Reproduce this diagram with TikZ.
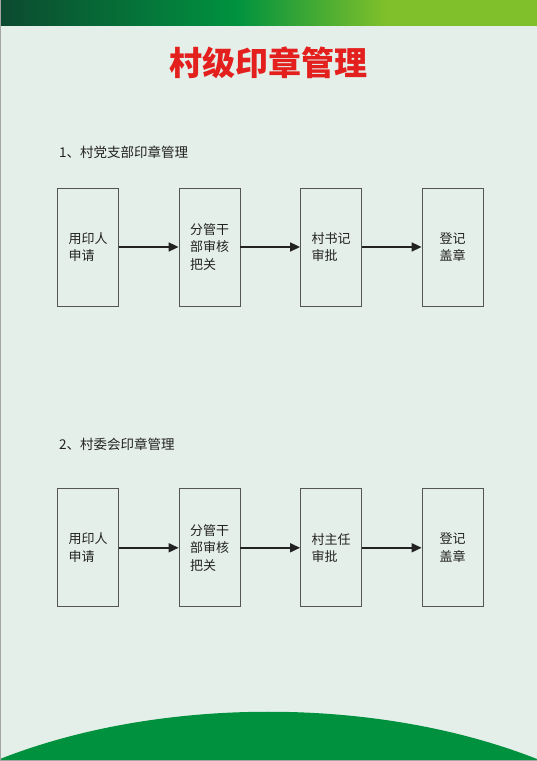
\documentclass[tikz,border=0pt]{standalone}
\usepackage{fontspec}
\setmainfont{Noto Sans CJK SC}
\usetikzlibrary{positioning,arrows.meta}

\definecolor{pagebg}{HTML}{E5EFE9}
\definecolor{bardark}{HTML}{0C4A30}
\definecolor{barmid}{HTML}{00923F}
\definecolor{barlight}{HTML}{80C02A}
\definecolor{arcgreen}{HTML}{00913E}
\definecolor{titlered}{HTML}{E3201E}
\definecolor{boxline}{HTML}{555555}
\definecolor{textdark}{HTML}{222222}

\pgfdeclarehorizontalshading{topbar}{100bp}{color(0bp)=(bardark); color(25bp)=(bardark);
  color(47bp)=(barmid); color(61bp)=(barlight); color(100bp)=(barlight)}

\begin{document}
\begin{tikzpicture}[
        x=1pt, y=1pt,
        node distance=59.7pt,
        stepbox/.style={
            rectangle,
            draw=boxline,
            line width=0.8pt,
            minimum width=61pt,
            minimum height=118pt,
            inner sep=0pt,
            align=left,
            text=textdark,
            font=\fontsize{13}{17.5}\selectfont
        },
        flow/.style={
            -{Triangle[length=10pt,width=9pt]},
            line width=1.6pt,
            draw=textdark
        },
        heading/.style={
            anchor=west,
            text=textdark,
            font=\fontsize{13.5}{15}\selectfont
        }
    ]

        \useasboundingbox (0,0) rectangle (537,761);

        % page background, top bar and bottom arc
        \fill[pagebg] (0,0) rectangle (537,761);
        \shade[shading=topbar] (0,735) rectangle (537,761);
        \fill[arcgreen] (0,0) -- (0,2) .. controls (160,65) and (377,65) .. (537,2) -- (537,0) -- cycle;
        \draw[gray!70, line width=1pt] (0,0) rectangle (537,761);

        \node[text=titlered, font=\fontsize{33}{36}\selectfont\bfseries] (title) at (268.5,698) {村级印章管理};

        % 1
        \node[heading] (party) at (55.5,609) {1、村党支部印章管理};

        \node[stepbox] (apply1) at (88,514) {用印人\\申请};
        \node[stepbox, right=of apply1] (check1) {分管干\\部审核\\把关};
        \node[stepbox, right=of check1] (approve1) {村书记\\审批};
        \node[stepbox, right=of approve1] (stamp1) {登记\\盖章};

        \draw[flow] (apply1) -- (check1);
        \draw[flow] (check1) -- (approve1);
        \draw[flow] (approve1) -- (stamp1);

        % 2
        \node[heading] (committee) at (55.5,317) {2、村委会印章管理};

        \node[stepbox, below=182pt of apply1] (apply2) {用印人\\申请};
        \node[stepbox, right=of apply2] (check2) {分管干\\部审核\\把关};
        \node[stepbox, right=of check2] (approve2) {村主任\\审批};
        \node[stepbox, right=of approve2] (stamp2) {登记\\盖章};

        \draw[flow] (apply2) -- (check2);
        \draw[flow] (check2) -- (approve2);
        \draw[flow] (approve2) -- (stamp2);

    \end{tikzpicture}
\end{document}
